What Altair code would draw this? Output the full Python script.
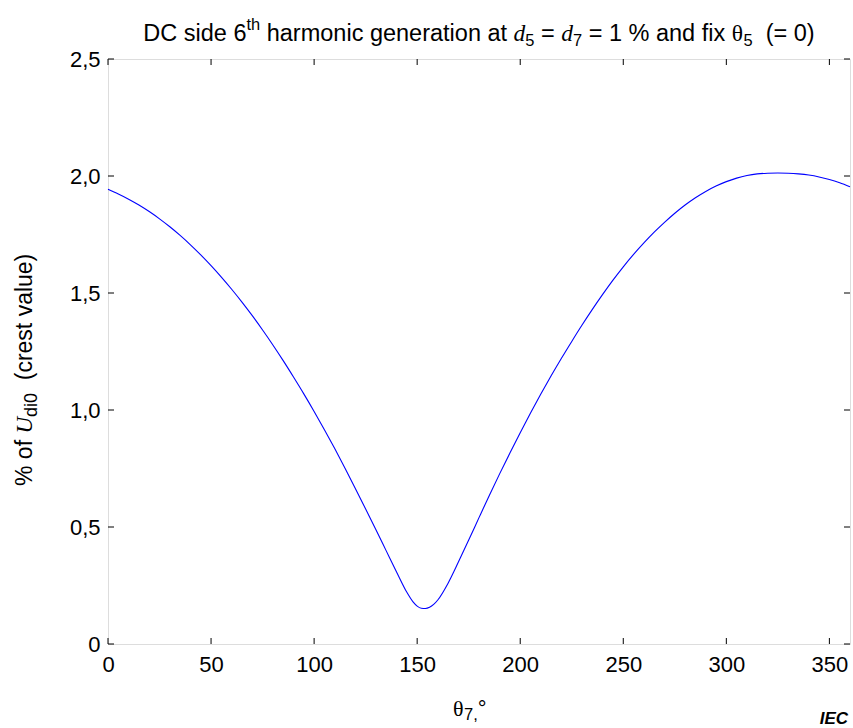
import altair as alt
import pandas as pd

# ---- data ----
theta7 = [0, 5, 10, 15, 20, 25, 30, 35, 40, 45, 50, 55, 60, 65, 70, 75, 80, 85, 90, 95,
          100, 105, 110, 115, 120, 125, 130, 135, 140, 145, 148, 150, 152, 154, 156, 158,
          160, 165, 170, 175, 180, 185, 190, 195, 200, 205, 210, 215, 220, 225, 230, 235,
          240, 245, 250, 255, 260, 265, 270, 275, 280, 285, 290, 295, 300, 305, 310, 315,
          320, 325, 330, 335, 340, 345, 350, 355, 360]
udi0 = [1.943, 1.923, 1.901, 1.876, 1.848, 1.817, 1.783, 1.746, 1.706, 1.663, 1.617, 1.568,
        1.516, 1.461, 1.403, 1.342, 1.278, 1.211, 1.141, 1.069, 0.994, 0.916, 0.835, 0.751,
        0.665, 0.577, 0.488, 0.398, 0.308, 0.221, 0.180, 0.162, 0.153, 0.152, 0.157, 0.169,
        0.188, 0.260, 0.350, 0.444, 0.540, 0.635, 0.727, 0.816, 0.903, 0.987, 1.068, 1.146,
        1.221, 1.293, 1.363, 1.430, 1.494, 1.555, 1.612, 1.665, 1.714, 1.760, 1.802, 1.841,
        1.876, 1.907, 1.934, 1.957, 1.976, 1.991, 2.002, 2.009, 2.012, 2.013, 2.012, 2.009,
        2.004, 1.996, 1.985, 1.971, 1.954]
x_ticks = [0, 50, 100, 150, 200, 250, 300, 350]
y_ticks = [0, 0.5, 1.0, 1.5, 2.0, 2.5]

W, H = 742, 585
SANS = "Liberation Sans"
SERIF = "Liberation Serif"
FS = 22
TFS = 23.5
YFS = 23

df = pd.DataFrame({"theta": theta7, "val": udi0})
xs = alt.Scale(domain=[0, 360], nice=False, zero=False)
ys = alt.Scale(domain=[0, 2.5], nice=False, zero=False)

line = alt.Chart(df).mark_line(color="#0000ff", strokeWidth=1.1, interpolate="monotone").encode(
    x=alt.X("theta:Q", scale=xs,
            axis=alt.Axis(values=x_ticks, ticks=False, domain=False, grid=False,
                          labelFont=SANS, labelFontSize=FS, labelColor="#000",
                          labelPadding=10, title=None, labelFlush=False)),
    y=alt.Y("val:Q", scale=ys,
            axis=alt.Axis(values=y_ticks, ticks=False, domain=False, grid=False,
                          labelFont=SANS, labelFontSize=FS, labelColor="#000",
                          labelPadding=8, title=None, labelFlush=False,
                          labelExpr="datum.value == 0 ? '0' : replace(format(datum.value, '.1f'), '.', ',')")),
)

xt = pd.DataFrame({"t": x_ticks})
yt = pd.DataFrame({"t": y_ticks})
TL = 6
tick_bottom = alt.Chart(xt).mark_rule(color="#000", strokeWidth=1).encode(
    x=alt.X("t:Q", scale=xs), y=alt.value(H), y2=alt.value(H - TL))
tick_top = alt.Chart(xt).mark_rule(color="#000", strokeWidth=1).encode(
    x=alt.X("t:Q", scale=xs), y=alt.value(0), y2=alt.value(TL))
tick_left = alt.Chart(yt).mark_rule(color="#000", strokeWidth=1).encode(
    y=alt.Y("t:Q", scale=ys), x=alt.value(0), x2=alt.value(TL))
tick_right = alt.Chart(yt).mark_rule(color="#000", strokeWidth=1).encode(
    y=alt.Y("t:Q", scale=ys), x=alt.value(W), x2=alt.value(W - TL))

# ---- rich text helpers ----
ARIAL = {' ': 278, 'a': 556, 'b': 556, 'c': 500, 'd': 556, 'e': 556, 'f': 278, 'g': 556,
         'h': 556, 'i': 222, 'l': 222, 'm': 833, 'n': 556, 'o': 556, 'r': 333, 's': 500,
         't': 278, 'u': 556, 'v': 500, 'x': 500, 'D': 722, 'C': 722, '%': 889, '=': 584,
         '(': 333, ')': 333, ',': 278, '0': 556, '1': 556, '5': 556, '6': 556, '7': 556}


def width(text, size, serif=False):
    if serif:
        return (0.722 if text == "U" else 0.5) * size
    return sum(ARIAL.get(c, 556) for c in text) / 1000.0 * size


one = alt.Data(values=[{"a": 1}])


def seg(text, x, y, font=SANS, size=FS, style="normal", angle=0, weight="normal"):
    """Draw text; leading spaces are converted into an offset along the text direction."""
    lead = len(text) - len(text.lstrip(" "))
    off = lead * 0.278 * size
    if angle == 270:
        y = y - off
    else:
        x = x + off
    return alt.Chart(one).mark_text(
        text=text.strip(" "), font=font, fontSize=size, fontStyle=style,
        fontWeight=weight, align="left", baseline="alphabetic", angle=angle, color="#000"
    ).encode(x=alt.value(x), y=alt.value(y))


# title segments
TS = 0.7 * TFS
title_parts = [
    ("DC side 6", False, False, "n"),
    ("th", False, False, "sup"),
    (" harmonic generation at ", False, False, "n"),
    ("d", True, True, "n"),
    ("5", False, False, "sub"),
    (" = ", False, False, "n"),
    ("d", True, True, "n"),
    ("7", False, False, "sub"),
    (" = 1 % and fix ", False, False, "n"),
    ("θ", True, False, "n"),
    ("5", False, False, "sub"),
    ("  (= 0)", False, False, "n"),
]
widths = []
for t, sf, it, k in title_parts:
    sz = TFS if k == "n" else TS
    widths.append(width(t, sz, sf))
total = sum(widths)
x0 = W / 2 - total / 2
base_y = -18
title_layers = []
for (t, sf, it, k), w in zip(title_parts, widths):
    sz = TFS if k == "n" else TS
    dy = 0 if k == "n" else (0.22 * TFS if k == "sub" else -0.45 * TFS)
    title_layers.append(seg(t, x0, base_y + dy, font=SERIF if sf else SANS, size=sz,
                            style="italic" if it else "normal"))
    x0 += w

# y-axis title, rotated
yparts = [
    ("% of ", False, False, "n"),
    ("U", True, True, "n"),
    ("di0", False, False, "sub"),
    ("  (crest value)", False, False, "n"),
]
ybase_x = -76
ystart = 427
ylayers = []
for t, sf, it, k in yparts:
    sz = YFS if k == "n" else 0.78 * YFS
    w = width(t, sz, sf)
    dx = 0 if k == "n" else 0.22 * YFS
    ylayers.append(seg(t, ybase_x + dx, ystart, font=SERIF if sf else SANS, size=sz,
                       style="italic" if it else "normal", angle=270))
    ystart -= w

# x-axis title  θ7,°
xl = []
xx = 345
xb = 657
xl.append(seg("θ", xx, xb, font=SERIF, size=FS))
xx += 0.5 * FS
xl.append(seg("7,", xx, xb + 4, font=SANS, size=0.75 * FS))
xx += width("7,", 0.75 * FS)
xl.append(seg("°", xx, xb, font=SANS, size=FS))

iec = alt.Chart(one).mark_text(text="IEC", font=SANS, fontSize=17, fontStyle="italic",
                               fontWeight="bold", align="right", baseline="alphabetic",
                               color="#000").encode(x=alt.value(W - 2), y=alt.value(H + 80))

chart = alt.layer(line, tick_bottom, tick_top, tick_left, tick_right,
                  *title_layers, *ylayers, *xl, iec).properties(
    width=W, height=H,
    autosize=alt.AutoSizeParams(type="none"),
    padding={"left": 108, "top": 59, "right": 3, "bottom": 84},
).configure_view(stroke="#000", strokeWidth=1).configure(background="white")

chart.save("out.html", embed_options={"renderer": "svg", "actions": False})
